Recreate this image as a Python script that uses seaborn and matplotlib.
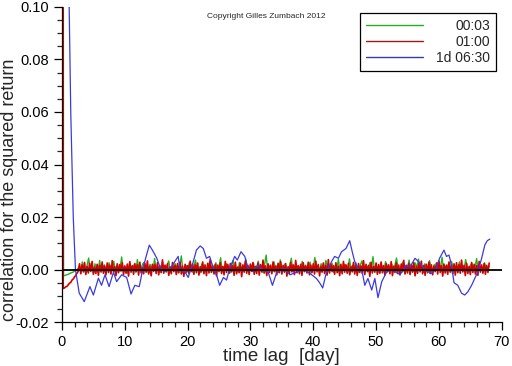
import numpy as np
import pandas as pd
import seaborn as sns
import matplotlib.pyplot as plt
from matplotlib.ticker import MultipleLocator, FormatStrFormatter

# series labels and colours
series_names = ['00:03', '01:00', '1d 06:30']
series_colors = ['#1fb41f', '#d40000', '#3a3ae0']
legend_colors = ['#22b022', '#a01818', '#3a3aa8']
series_widths = [1.0, 1.2, 0.9]

# lag steps of the two short-horizon series [day]
green_step = 0.25
red_step = 0.2

# 00:03 returns, values in units of 1e-3 (first value = lag 0)
green_vals = [1000.0,
    -2.4, -2.2, -2.0, -1.8, -1.5, -1.2, -1.0, -0.6, -0.3, 0.2,
    1.2, -0.8, 2.9, 0.3, -1.1, 1.6, 4.4, -0.5, 0.8, -1.3, 2.2, 0.1, -0.6, 3.5, -1.0, 0.9, 1.8, -0.4, 0.5, 2.6,
    -1.2, 0.7, 3.1, -0.3, 1.4, -0.9, 0.2, 4.8, -0.7, 1.1, 0.4, -1.4, 2.4, 0.6, -0.2, 1.9, -1.0, 3.8, 0.3, -0.5,
    1.5, 2.7, -0.8, 0.4, -1.2, 2.0, 0.9, -0.3, 4.2, -0.6, 1.3, 0.1, -1.1, 2.8, 0.5, -0.4, 1.7, 3.3, -0.9, 0.6,
    -0.2, 2.3, 0.8, -1.3, 1.0, 5.2, -0.5, 0.3, 1.6, -0.8, 2.5, 0.2, -1.0, 1.2, 3.6, -0.3, 0.7, -1.2, 2.1, 0.4,
    1.9, -0.6, 0.5, 3.0, -1.1, 1.4, 0.0, 2.6, -0.4, 0.9, 4.5, -0.8, 1.1, -0.2, 2.2, 0.6, -1.3, 1.5, 3.4, -0.5,
    0.8, -0.9, 2.7, 0.3, 1.2, -0.7, 4.0, 0.5, -1.0, 1.8, 0.2, 2.4, -0.6, 1.0, 3.2, -0.3, 0.7, -1.2, 2.0, 5.5,
    -0.4, 1.3, 0.6, -0.8, 2.9, 0.1, 1.6, -1.1, 3.7, 0.4, -0.5, 2.1, 0.9, -0.2, 1.4, 4.3, -0.7, 0.3, 2.5, -1.0,
    1.1, 0.5, 3.1, -0.6, 1.7, -0.3, 0.8, 2.8, -1.2, 0.4, 4.6, 0.0, 1.3, -0.9, 2.2, 0.7, -0.4, 3.5, 1.0, -0.8,
    0.6, 2.4, -1.1, 1.5, 0.2, 3.9, -0.5, 0.9, -0.2, 2.0, 1.2, -0.9, 4.1, 0.3, 1.6, -0.6, 2.7, 0.5, -1.0, 1.8,
    3.3, -0.4, 0.7, 1.4, -0.8, 2.6, 0.1, 4.9, -0.3, 1.0, 0.6, -1.2, 2.3, 0.8, -0.5, 3.0, 1.5, -0.2, 0.4, 2.1,
    -0.9, 1.7, 4.4, 0.2, -0.6, 1.2, 2.8, -1.0, 0.9, 0.3, 3.6, -0.4, 1.4, -0.7, 2.5, 0.6, 4.0, -0.3, 1.1, -1.1,
    2.2, 0.5, -0.5, 3.4, 1.0, -0.8, 1.9, 0.2, 2.7, -0.2, 0.8, 4.7, -0.9, 1.3, 0.4, 2.0, -0.6, 3.1, 0.7, -0.3,
    1.6, -1.0, 2.9, 0.3, 1.2, -0.4, 3.8, 0.6, -0.7, 1.5, 2.3, -0.2, 0.9, 4.2, -0.5, 1.1, 0.4, -0.9, 2.6, 0.8, -0.3, 1.4]

# 01:00 returns, values in units of 1e-3 (first value = lag 0)
red_vals = [1000.0,
    -7.2, -7.0, -6.6, -6.4, -5.8, -5.2, -4.9, -4.0, -3.6, -2.8, -2.2, -1.4, -0.6,
    2.2, -1.6, 1.8, -0.9, 2.7, -1.9, 1.2, -1.3, 2.4, -0.7, 3.1, -1.8, 0.9, -1.5, 2.0, -2.2, 1.6, -0.8, 2.9, -1.4,
    1.3, -2.0, 2.5, -1.1, 1.7, -1.7, 3.4, -0.9, 1.1, -2.3, 2.2, -1.2, 1.9, -0.6, 2.6, -1.9, 1.4, -1.4, 2.1, -2.5,
    3.0, -1.0, 1.5, -1.8, 2.3, -0.8, 1.8, -2.1, 2.8, -1.3, 0.8, -1.6, 2.4, -1.0, 3.3, -1.7, 1.2, -2.4, 2.0, -0.7,
    1.9, -1.5, 2.6, -2.0, 1.4, -1.1, 3.7, -1.4, 1.7, -0.9, 2.2, -2.2, 1.0, -1.6, 2.7, -0.8, 1.6, -1.9, 2.3, -1.2,
    2.8, -1.7, 1.3, -2.6, 2.0, -1.0, 1.5, -1.5, 3.2, -0.7, 2.1, -1.8, 1.8, -1.2, 2.5, -2.1, 1.1, -0.9, 2.9, -1.6,
    1.6, -2.3, 2.4, -1.3, 3.9, -1.0, 1.4, -1.7, 2.0, -2.4, 1.7, -0.8, 2.6, -1.5, 1.2, -2.0, 3.1, -1.1, 1.9, -1.4,
    2.3, -0.9, 1.5, -2.2, 2.8, -1.6, 1.0, -1.2, 2.4, -2.7, 1.8, -1.0, 3.3, -1.4, 1.6, -1.9, 2.1, -0.7, 2.7, -1.8,
    1.2, -1.5, 2.5, -2.1, 1.9, -0.9, 3.6, -1.3, 1.4, -2.3, 2.2, -1.1, 1.7, -1.6, 2.9, -0.8, 1.3, -2.0, 2.4, -1.2,
    3.0, -1.7, 1.6, -1.0, 2.3, -2.5, 1.1, -1.4, 2.7, -0.9, 1.8, -1.9, 3.5, -1.2, 1.5, -1.6, 2.0, -2.2, 2.6, -0.8,
    1.4, -1.3, 2.8, -2.0, 1.7, -1.1, 2.2, -1.7, 3.2, -0.9, 1.9, -2.4, 1.2, -1.0, 2.5, -1.5, 1.6, -2.1, 3.8, -1.3,
    2.1, -0.8, 1.5, -1.8, 2.6, -1.2, 1.3, -2.3, 2.0, -1.6, 3.1, -1.0, 1.8, -1.4, 2.4, -2.0, 1.1, -0.9, 2.7, -1.7,
    1.7, -2.2, 2.3, -1.1, 1.4, -1.5, 3.4, -1.9, 2.0, -0.8, 1.6, -2.6, 2.8, -1.3, 1.2, -1.0, 2.5, -1.8, 1.9, -1.4,
    2.9, -1.2, 1.5, -2.1, 2.2, -0.9, 1.8, -1.6, 3.0, -2.3, 1.3, -1.1, 2.6, -1.5, 1.7, -2.0, 2.1, -0.8, 3.5, -1.7,
    1.4, -1.3, 2.4, -1.9, 1.9, -1.0, 2.7, -2.4, 1.2, -1.4, 2.3, -0.9, 3.2, -1.6, 1.6, -2.2, 2.0, -1.2, 2.8, -1.5,
    1.8, -2.0, 1.3, -0.8, 2.5, -1.7, 3.3, -1.1, 1.5, -2.5, 2.1, -1.3, 1.7, -1.8, 2.9, -1.0, 1.4, -1.6, 2.2, -2.1,
    2.6, -1.2, 1.9, -1.4, 3.6, -0.9, 1.6, -2.3, 2.4, -1.5, 1.2, -1.9, 2.7, -1.1, 2.0, -1.7, 1.5, -2.2, 3.1, -1.0,
    1.8, -1.4, 2.3, -1.8, 1.6, -1.1, 2.5]

# 1d 06:30 returns (lags in days, values in units of 1e-3)
blue_lag = [1.0, 1.15, 1.4, 1.6, 1.8, 2.15, 2.75, 3.55, 4.45, 5.0, 5.8, 6.3, 6.85, 7.5,
            8.2, 8.7, 9.5, 10.3, 11.0, 11.6, 12.3, 12.9, 13.4, 13.9, 14.4, 15.1, 15.6,
            16.4, 17.4, 18.5, 18.8, 19.6, 20.1, 20.9, 21.4, 22.0, 22.5, 23.0, 23.5, 24.1,
            24.6, 25.1, 25.7, 26.2, 26.7, 27.5, 27.9, 28.5, 29.1, 29.6, 30.4, 31.2, 32.0,
            32.8, 33.5, 34.2, 35.2, 36.3, 37.3, 38.4, 39.5, 40.5, 41.0, 41.5, 42.1, 42.9,
            43.4, 44.0, 44.5, 45.2, 45.8, 46.2, 46.6, 47.1, 47.8, 48.2, 48.7, 49.3, 49.8,
            50.3, 50.9, 51.7, 52.7, 53.8, 54.8, 55.4, 56.2, 57.0, 57.7, 58.8, 59.6, 60.1,
            60.8, 61.2, 61.6, 62.0, 62.4, 63.0, 63.6, 64.1, 64.6, 65.2, 65.7, 66.2, 66.8,
            67.3, 67.7, 68.1]
blue_vals = [150.0, 100.0, 60.0, 40.0, 20.0, 0.0, -9.0, -12.2, -6.5, -9.7, -3.3, -6.0, -2.0, -6.5,
             -1.0, -4.6, -2.0, -3.0, -9.3, -6.0, -6.5, 0.5, 5.0, 9.3, 7.4, 4.3, 1.0,
             -0.8, 1.0, 5.0, 0.0, -1.0, -3.0, 3.0, 7.4, 9.0, 8.0, 4.3, 5.0, 0.5,
             -2.0, -6.0, -3.0, -4.0, 0.5, 5.0, 3.6, 6.8, 5.0, 0.5, -0.8, 1.7, -0.2,
             -0.8, -6.0, -1.0, 0.5, -2.0, -1.0, 0.0, -1.5, -3.4, -5.0, -7.0, -1.0, 3.0,
             5.0, 4.3, 6.8, 8.0, 11.0, 6.8, 3.0, 0.5, -1.0, -6.0, -3.4, -7.8, -3.4,
             -10.7, -4.6, -0.8, 0.0, -2.0, 1.7, 1.0, 4.3, 2.4, 0.0, -1.5, 0.5, 4.3,
             7.4, 5.0, 5.5, 1.7, -5.0, -6.0, -9.0, -9.7, -8.5, -6.0, -3.4, -0.8, 4.3,
             9.3, 11.0, 11.6]

frames = []
for name, lags, vals in [
        (series_names[0], green_step * np.arange(len(green_vals)), green_vals),
        (series_names[1], red_step * np.arange(len(red_vals)), red_vals),
        (series_names[2], blue_lag, blue_vals)]:
    frames.append(pd.DataFrame({'lag': lags, 'corr': np.array(vals) * 1e-3, 'series': name}))
df = pd.concat(frames, ignore_index=True)

sns.set_style('ticks')
plt.rcParams['font.family'] = ['Liberation Sans', 'DejaVu Sans']

fig = plt.figure(figsize=(5.12, 3.66), dpi=100)
ax = fig.add_axes([0.121, 0.120, 0.859, 0.861])

for name, color, lw in zip(series_names, series_colors, series_widths):
    sns.lineplot(data=df[df['series'] == name], x='lag', y='corr', color=color,
                 estimator=None, sort=False, linewidth=lw, ax=ax)
ax.axhline(0, color='black', linewidth=1.3, zorder=5)

ax.set_xlim(0, 70)
ax.set_ylim(-0.02, 0.10)
ax.xaxis.set_major_locator(MultipleLocator(10))
ax.xaxis.set_minor_locator(MultipleLocator(2))
ax.yaxis.set_major_locator(MultipleLocator(0.02))
ax.yaxis.set_minor_locator(MultipleLocator(0.005))
ax.yaxis.set_major_formatter(FormatStrFormatter('%.2f'))
ax.tick_params(which='major', direction='out', length=6, width=0.9, labelsize=10.5, colors='black')
ax.tick_params(which='minor', direction='out', length=3.5, width=0.9)
sns.despine(ax=ax)
for s in ['left', 'bottom']:
    ax.spines[s].set_color('black')
    ax.spines[s].set_linewidth(0.9)

ax.set_xlabel('time lag  [day]', fontsize=13.5, labelpad=-1)
ax.set_ylabel('correlation for the squared return', fontsize=13)
ax.yaxis.set_label_coords(-0.1, 0.42)

fig.text(0.52, 0.955, 'Copyright Gilles Zumbach 2012', fontsize=6, ha='center', va='center')

handles = [plt.Line2D([], [], color=c, linewidth=1.0) for c in legend_colors]
leg = ax.legend(handles, series_names, loc='upper right', fontsize=10, frameon=True,
                fancybox=False, edgecolor='black', framealpha=1, handlelength=4.1,
                labelspacing=0.15, borderaxespad=0.4, borderpad=0.45, handletextpad=0.95)
leg.get_frame().set_linewidth(0.9)
# right-align the legend labels
fig.canvas.draw()
renderer = fig.canvas.get_renderer()
widths = [t.get_window_extent(renderer).width for t in leg.get_texts()]
for t, w in zip(leg.get_texts(), widths):
    t.set_position((max(widths) - w, 0))

fig.savefig('out.png', dpi=100)
